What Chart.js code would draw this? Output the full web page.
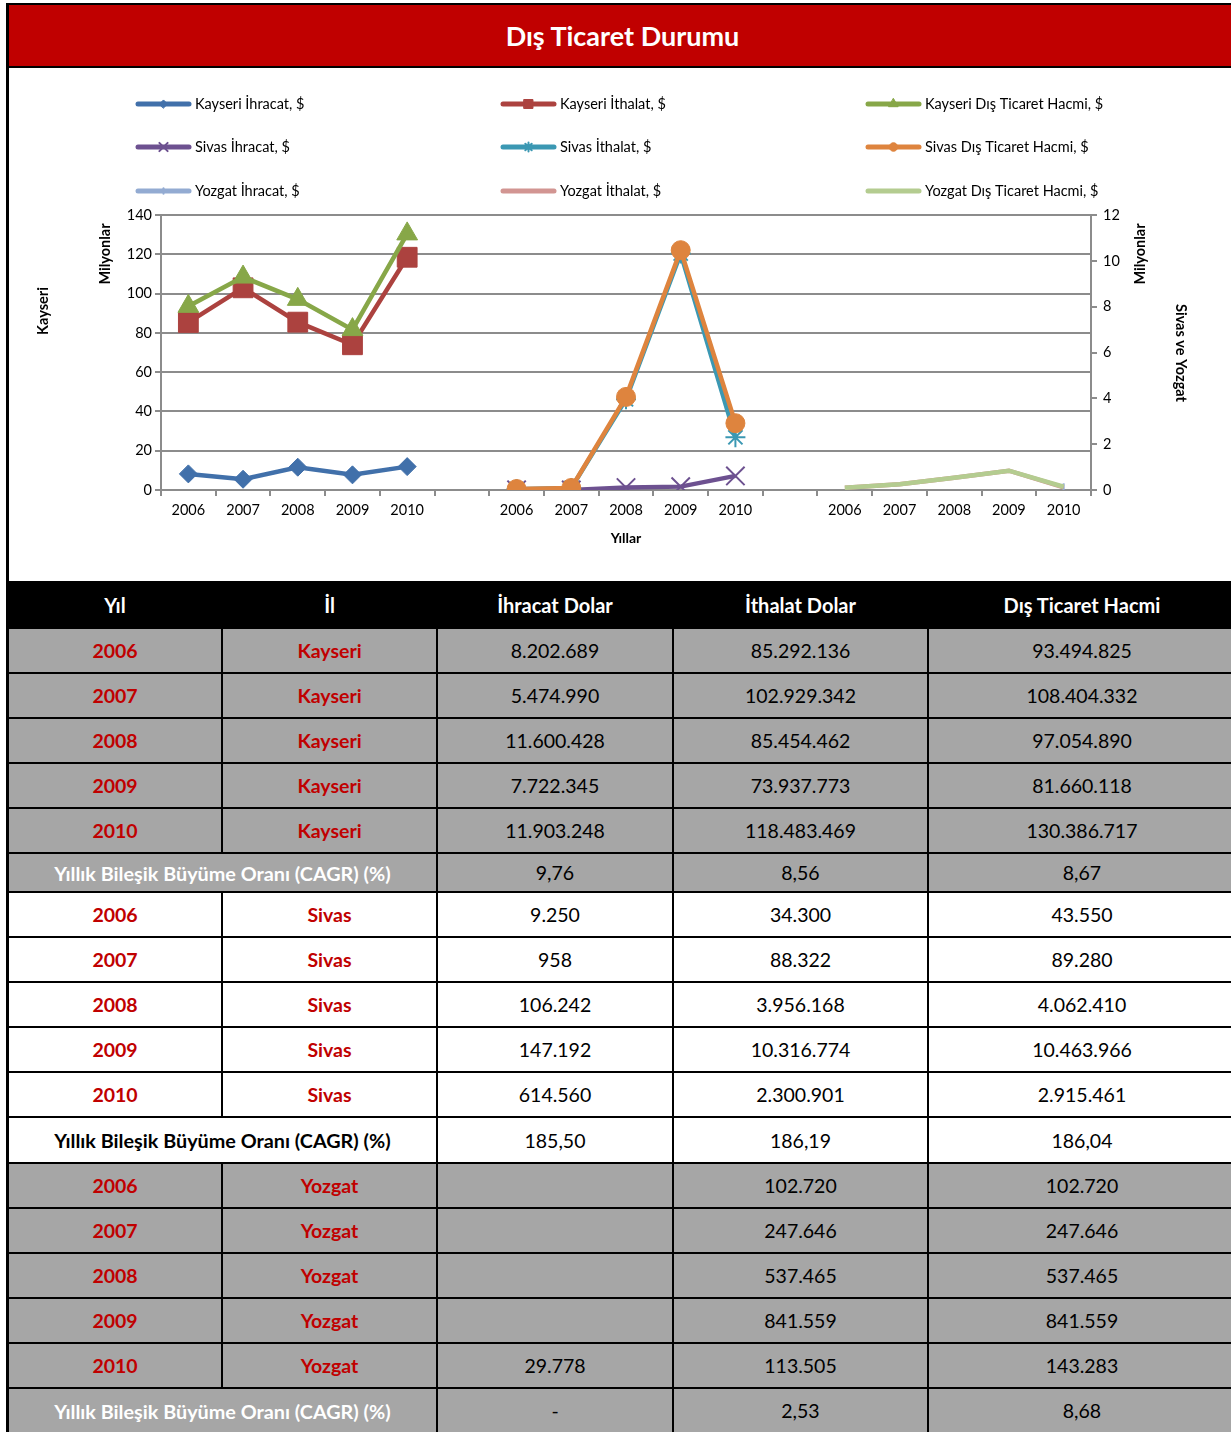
<!DOCTYPE html>
<html lang="tr">
<head>
<meta charset="UTF-8" />
<title>Dış Ticaret Durumu</title>
<style>
  html, body { margin: 0; padding: 0; background: #fff; overflow: hidden; }
  body { width: 1231px; height: 1432px; position: relative; font-family: Lato, "Open Sans", sans-serif; }

  /* Çerçeve: sol ve üst siyah kenar */
  #frame { position: absolute; left: 6px; top: 3px; width: 1227px; border-left: 3px solid #000; border-top: 2px solid #000; }

  #baslik { height: 61px; line-height: 61px; background: #C00000; color: #fff; font-weight: bold; font-size: 27px; text-align: center; border-bottom: 2px solid #000; }

  #grafikKutusu { position: relative; width: 1222px; height: 513px; }

  /* Tablo */
  table { border-collapse: collapse; table-layout: fixed; width: 1227px; font-size: 19.5px; }
  td, th { border: 2px solid #000; text-align: center; padding: 0; }
  tr > :first-child { border-left: 0; }
  th { background: #000; color: #fff; font-weight: bold; height: 44px; font-size: 20px; }
  tr.gri td { background: #A6A6A6; }
  tr.beyaz td { background: #fff; }
  td.kirmizi { color: #C00000; font-weight: bold; font-size: 19.5px; }
  td.etiket { font-weight: bold; font-size: 19.8px; }
  tr.gri td.etiket { color: #fff; }
  tr.beyaz td.etiket { color: #000; }
</style>
</head>
<body>
  <div id="frame">
    <div id="baslik">Dış Ticaret Durumu</div>
    <div id="grafikKutusu"><canvas id="grafik"></canvas></div>
    <table id="tablo">
      <colgroup>
        <col style="width:213px" /><col style="width:215px" /><col style="width:236px" /><col style="width:255px" /><col style="width:308px" />
      </colgroup>
      <thead>
        <tr><th>Yıl</th><th>İl</th><th>İhracat Dolar</th><th>İthalat Dolar</th><th>Dış Ticaret Hacmi</th></tr>
      </thead>
      <tbody id="tabloGovde"></tbody>
    </table>
  </div>

  <script src="https://cdn.jsdelivr.net/npm/chart.js"></script>
  <script>
    // Yıllar ve değerler (dolar)
    const yillar = ['2006', '2007', '2008', '2009', '2010'];

    const kayseriIhracat = [8202689, 5474990, 11600428, 7722345, 11903248];
    const kayseriIthalat = [85292136, 102929342, 85454462, 73937773, 118483469];
    const kayseriHacim = [93494825, 108404332, 97054890, 81660118, 130386717];

    const sivasIhracat = [9250, 958, 106242, 147192, 614560];
    const sivasIthalat = [34300, 88322, 3956168, 10316774, 2300901];
    const sivasHacim = [43550, 89280, 4062410, 10463966, 2915461];

    const yozgatIhracat = [null, null, null, null, 29778];
    const yozgatIthalat = [102720, 247646, 537465, 841559, 113505];
    const yozgatHacim = [102720, 247646, 537465, 841559, 143283];

    // Yıllık bileşik büyüme oranları (ihracat, ithalat, hacim)
    const kayseriCagr = ['9,76', '8,56', '8,67'];
    const sivasCagr = ['185,50', '186,19', '186,04'];
    const yozgatCagr = ['-', '2,53', '8,68'];

    // Eksen etiketleri (milyon)
    const solTikler = [0, 20, 40, 60, 80, 100, 120, 140];
    const sagTikler = [0, 2, 4, 6, 8, 10, 12];

    // Üç grup arasında birer boş kategori
    const etiketler = [...yillar, '', ...yillar, '', ...yillar];

    function yerlestir(degerler, grup) {
      const sonuc = new Array(etiketler.length).fill(null);
      degerler.forEach((v, i) => { sonuc[grup * 6 + i] = v; });
      return sonuc;
    }

    function binlik(n) {
      if (n === null) return '';
      return String(n).replace(/\B(?=(\d{3})+(?!\d))/g, '.');
    }

    // Tablo satırları
    const govde = document.getElementById('tabloGovde');
    function tabloEkle(il, ihr, ith, hacim, cagr, sinif, cagrYukseklik) {
      yillar.forEach((y, i) => {
        const tr = document.createElement('tr');
        tr.className = sinif;
        tr.style.height = '45px';
        tr.innerHTML = `<td class="kirmizi">${y}</td><td class="kirmizi">${il}</td>` +
          `<td>${binlik(ihr[i])}</td><td>${binlik(ith[i])}</td><td>${binlik(hacim[i])}</td>`;
        govde.appendChild(tr);
      });
      const tr = document.createElement('tr');
      tr.className = sinif;
      tr.style.height = cagrYukseklik + 'px';
      tr.innerHTML = `<td class="etiket" colspan="2">Yıllık Bileşik Büyüme Oranı (CAGR) (%)</td>` +
        `<td>${cagr[0]}</td><td>${cagr[1]}</td><td>${cagr[2]}</td>`;
      govde.appendChild(tr);
    }
    tabloEkle('Kayseri', kayseriIhracat, kayseriIthalat, kayseriHacim, kayseriCagr, 'gri', 39);
    tabloEkle('Sivas', sivasIhracat, sivasIthalat, sivasHacim, sivasCagr, 'beyaz', 46);
    tabloEkle('Yozgat', yozgatIhracat, yozgatIthalat, yozgatHacim, yozgatCagr, 'gri', 45);

    // Grafik
    Chart.defaults.font.family = 'Lato';
    Chart.defaults.color = '#000';

    const seriler = [
      { label: 'Kayseri İhracat, $', data: yerlestir(kayseriIhracat, 0), renk: '#4170AA', stil: 'rectRot', r: 9, yAxisID: 'y' },
      { label: 'Kayseri İthalat, $', data: yerlestir(kayseriIthalat, 0), renk: '#AC423F', stil: 'rect', r: 14, yAxisID: 'y' },
      { label: 'Kayseri Dış Ticaret Hacmi, $', data: yerlestir(kayseriHacim, 0), renk: '#87A748', stil: 'triangle', r: 12, yAxisID: 'y' },
      { label: 'Sivas İhracat, $', data: yerlestir(sivasIhracat, 1), renk: '#6D5190', stil: 'crossRot', r: 13, bw: 2, yAxisID: 'y1' },
      { label: 'Sivas İthalat, $', data: yerlestir(sivasIthalat, 1), renk: '#3B98B3', stil: 'star', r: 10, bw: 2, yAxisID: 'y1' },
      { label: 'Sivas Dış Ticaret Hacmi, $', data: yerlestir(sivasHacim, 1), renk: '#DE843E', stil: 'circle', r: 9.5, yAxisID: 'y1' },
      { label: 'Yozgat İhracat, $', data: yerlestir(yozgatIhracat, 2), renk: '#93ABD2', stil: 'line', r: 6, bw: 2, don: 90, yAxisID: 'y1' },
      { label: 'Yozgat İthalat, $', data: yerlestir(yozgatIthalat, 2), renk: '#D29592', stil: 'circle', r: 0, yAxisID: 'y1' },
      { label: 'Yozgat Dış Ticaret Hacmi, $', data: yerlestir(yozgatHacim, 2), renk: '#B4CC90', stil: 'circle', r: 0, yAxisID: 'y1' }
    ];

    const datasets = seriler.map((s, i) => ({
      label: s.label,
      data: s.data,
      yAxisID: s.yAxisID,
      borderColor: s.renk,
      backgroundColor: s.renk,
      borderWidth: 4.5,
      pointStyle: s.stil,
      pointRadius: s.r,
      pointRotation: s.don || 0,
      pointBackgroundColor: s.renk,
      pointBorderColor: s.renk,
      pointBorderWidth: s.bw || 1,
      order: seriler.length - i,
      tension: 0
    }));

    function dikeyYazi(ctx, metin, x, y, aci) {
      ctx.save();
      ctx.translate(x, y);
      ctx.rotate(aci);
      ctx.textAlign = 'center';
      ctx.textBaseline = 'middle';
      ctx.font = 'bold 14.5px Lato';
      ctx.fillStyle = '#000';
      ctx.fillText(metin, 0, 0);
      ctx.restore();
    }

    // Üç sütunlu lejant ve eksen yanı yazıları
    const lejantEklentisi = {
      id: 'lejant',
      afterDraw(chart) {
        const ctx = chart.ctx;
        const sutunX = [127, 492, 857];
        const satirY = [36, 79, 123];
        chart.data.datasets.forEach((ds, i) => {
          const x = sutunX[i % 3];
          const y = satirY[Math.floor(i / 3)];
          ctx.save();
          ctx.strokeStyle = ds.borderColor;
          ctx.lineWidth = 5;
          ctx.lineCap = 'round';
          ctx.beginPath();
          ctx.moveTo(x + 2, y);
          ctx.lineTo(x + 53, y);
          ctx.stroke();
          if (ds.pointRadius > 0) {
            ctx.fillStyle = ds.pointBackgroundColor;
            ctx.strokeStyle = ds.pointBorderColor;
            ctx.lineWidth = ds.pointBorderWidth;
            Chart.helpers.drawPoint(ctx, {
              pointStyle: ds.pointStyle,
              radius: ds.pointRadius * 0.45,
              borderWidth: ds.pointBorderWidth,
              rotation: ds.pointRotation
            }, x + 27.5, y);
          }
          ctx.fillStyle = '#000';
          ctx.font = '14.5px Lato';
          ctx.textBaseline = 'middle';
          ctx.textAlign = 'left';
          ctx.fillText(ds.label, x + 59, y);
          ctx.restore();
        });
        dikeyYazi(ctx, 'Milyonlar', 96, 186, -Math.PI / 2);
        dikeyYazi(ctx, 'Kayseri', 34, 243, -Math.PI / 2);
        dikeyYazi(ctx, 'Milyonlar', 1131, 186, -Math.PI / 2);
        dikeyYazi(ctx, 'Sivas ve Yozgat', 1172, 285, Math.PI / 2);
      }
    };

    const gri = '#8C8C8C';

    new Chart(document.getElementById('grafik'), {
      type: 'line',
      data: { labels: etiketler, datasets: datasets },
      plugins: [lejantEklentisi],
      options: {
        responsive: true,
        maintainAspectRatio: false,
        animation: false,
        layout: { padding: { top: 147, left: 0, right: 0, bottom: 0 } },
        plugins: { legend: { display: false }, tooltip: { enabled: false } },
        scales: {
          x: {
            type: 'category',
            offset: true,
            grid: { offset: true, drawOnChartArea: false, color: gri, lineWidth: 2, tickLength: 6 },
            border: { color: gri, width: 2 },
            ticks: { autoSkip: false, maxRotation: 0, padding: 6, font: { size: 14.5 } },
            title: { display: true, text: 'Yıllar', font: { size: 14, weight: 'bold' }, padding: { top: 0, bottom: 34 } },
            afterFit(scale) { scale.height = 91; }
          },
          y: {
            position: 'left',
            min: solTikler[0] * 1e6,
            max: solTikler[solTikler.length - 1] * 1e6,
            afterBuildTicks(scale) { scale.ticks = solTikler.map(v => ({ value: v * 1e6 })); },
            grid: { color: gri, lineWidth: 2, tickLength: 6 },
            border: { color: gri, width: 2 },
            ticks: { padding: 3, font: { size: 14.5 }, callback: v => v / 1e6 },
            afterFit(scale) { scale.width = 152; }
          },
          y1: {
            position: 'right',
            min: sagTikler[0] * 1e6,
            max: sagTikler[sagTikler.length - 1] * 1e6,
            afterBuildTicks(scale) { scale.ticks = sagTikler.map(v => ({ value: v * 1e6 })); },
            grid: { drawOnChartArea: false, color: gri, lineWidth: 2, tickLength: 6 },
            border: { color: gri, width: 2 },
            ticks: { padding: 6, font: { size: 14.5 }, callback: v => v / 1e6 },
            afterFit(scale) { scale.width = 140; }
          }
        }
      }
    });
  </script>
</body>
</html>
